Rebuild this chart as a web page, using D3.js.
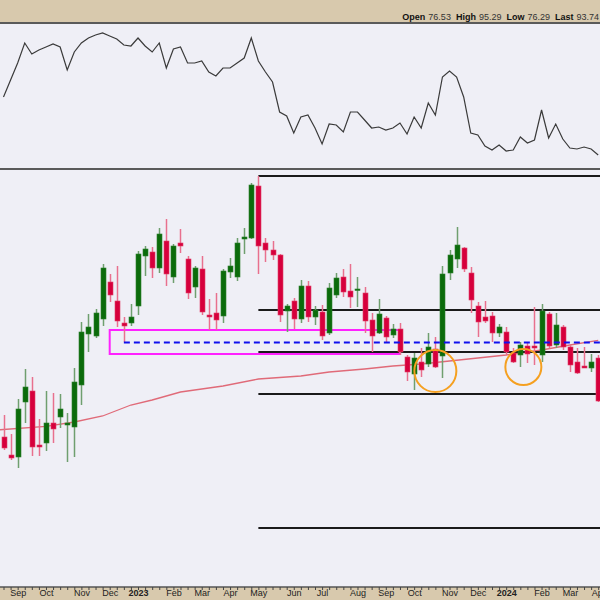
<!DOCTYPE html>
<html><head><meta charset="utf-8">
<script src="https://cdn.jsdelivr.net/npm/d3@7"></script>
<style>body{margin:0;background:#fff}svg{display:block}</style>
</head><body><svg id="c" width="600" height="600"></svg>
<script>
// ---------- DATA ----------
const firstWeek = "2022-08-22";
const lastWeek = "2024-04-01";
const opens = [40.75,36.25,35.75,49.5,52.25,38.75,39.25,44.25,45.75,43.75,
 43.25,53.75,66.5,66,70.25,79.5,74.75,69.25,69.25,73.5,
 86,87,83,89.75,80.75,89.25,85.25,78.25,82.75,71.25,
 71.75,71,82,80.75,90.25,90.5,103.5,89.25,87.5,86.25,
 72.25,74.75,70.25,78.5,70.75,72,66.75,76.25,80.75,77.25,
 77.5,76.75,70,66.75,70.5,66.25,67.75,60.75,56.5,59.5,
 59,62.75,61,81.75,85.25,88,81.75,73.5,70.75,71,
 66.75,67,61.75,61.25,63.5,63.5,61.25,71.5,63.75,68.25,
 63.25,59.5,58.5,58,60.5];
const highs = [46.25,41.5,50.25,57.75,55.75,45.25,52.25,51.75,51.5,46.75,
 58,69.5,71.5,72.75,84,81.5,83.5,70.75,74,87.25,
 88.5,88.25,93,95.25,89,92.75,86,83.5,86,75.25,
 76.75,82.75,85.5,90.5,93,104.25,106,90.5,89.75,86.5,
 74,75.5,80,79.75,73.5,73.75,79.25,81.75,82.75,84,
 80.75,78.25,71.75,75.25,71,69,69.25,61.25,61.75,63,
 66.75,65.75,83.5,87.5,93.25,88.25,83.25,74.5,74.75,72,
 69,68.25,63,64.5,64.25,73.25,74,72,71.75,68.75,
 63.75,63,63.25,61.5,61.25];
const lows = [37.5,35,33,44.25,36,36,37.25,39.25,43,34.5,
 35.75,48.75,62,65.5,68.5,74.5,68.25,64.5,68.5,71.25,
 81,80.5,81.75,78.5,79.25,86.75,75.25,75.5,71.25,67.5,
 67.5,69.25,80.5,79.75,86.5,90.25,81.5,84.5,85,69.5,
 67,67.75,69.25,69.5,68.75,65,66.25,75.5,75.75,73,
 73.25,66.75,62,66.5,64.25,65.5,61.25,54.75,52.5,55.75,
 58.25,58,55.5,80,83,82,71.75,65.75,69.25,64.5,
 65.75,61.25,59.25,58.25,59.25,58.75,59.5,63,63,62.5,
 57,56.5,58,57,49.5];
const closes = [38,35.5,47.75,53.25,38.25,38.25,44.25,42.75,47.75,44.25,
 54.5,67,68.25,71.75,83,76.25,69.75,68.5,70.75,86.5,
 87.75,83,91.5,81.5,88.5,88.5,76.75,83,72,70.75,
 70,82.25,83.5,89.25,90.75,103.75,88.5,87.5,86.25,71.25,
 73.5,70.25,78.5,70.75,72.5,66,78,80.5,77,75.75,
 77.75,69.75,66,71.5,65.75,67.75,62,57,60.5,57.5,
 63.25,58.25,81.5,86.25,88.75,82.75,75,69.5,69.75,66.75,
 68.25,62,59.5,63.75,61.5,63,72.25,63.5,68.75,63.25,
 58.75,56.75,58,59.5,49.75];
const indicator = [73,90,107,127,116,120,123,126,123,100,
 118,127,132,135,137,134,131,125,124,132,
 124,118,127,102,121,123,107,107,109,98,
 94,102,102,107,112,132,109,98,88,58,
 54,37,53,55,42,26,46,45,38,58,
 58,50,42,43,40,42,47,36,53,42,
 67,55,93,99,93,73,37,35,24,20,
 25,19,20,33,27,30,60,32,46,31,
 22,21,23,21,15];
const maDates = ["2022-08-15","2022-10-03","2022-10-31","2022-11-28","2022-12-26","2023-01-16","2023-02-13",
 "2023-03-27","2023-05-01","2023-06-12","2023-07-10","2023-08-14","2023-09-11","2023-10-09","2023-11-06",
 "2023-12-04","2024-01-01","2024-02-05","2024-03-04","2024-04-01"];
const maValues = [42.5,43.4,44.5,46,48.75,50,52,53.5,55.25,56,57,57.75,58.5,59,59.75,60.5,61.25,62.5,63.75,64.9];
const monthTickDates = ["2022-09-05","2022-10-03","2022-11-07","2022-12-05","2023-01-02","2023-02-06","2023-03-06",
 "2023-04-03","2023-05-01","2023-06-05","2023-07-03","2023-08-07","2023-09-04","2023-10-02","2023-11-06",
 "2023-12-04","2024-01-01","2024-02-05","2024-03-04","2024-04-01"];
const monthLabels = ["Sep","Oct","Nov","Dec","2023","Feb","Mar","Apr","May","Jun","Jul","Aug","Sep","Oct","Nov","Dec","2024","Feb","Mar","Apr"];
const headerLabels = ["Open","High","Low","Last"];
const headerValues = ["76.53","95.29","76.29","93.74"];
const fibLevels = [106,72.5,62,51.5,18];
const fibStart = "2023-05-01";
const boxRange = {from:"2022-12-05", to:"2023-09-18", top:67.5, bottom:61.5};
const dashedLevel = {from:"2022-12-19", value:64.4};
const circleMarks = [{date:"2023-10-23", value:57.25, r:21},{date:"2024-01-18", value:58.25, r:18}];

// ---------- LAYOUT ----------
const W = 600, H = 600;
const parse = d3.timeParse("%Y-%m-%d");
const weeks = d3.timeMonday.range(parse(firstWeek), d3.timeDay.offset(parse(lastWeek),1));
const candles = weeks.map((d,i)=>({date:d,o:opens[i],h:highs[i],l:lows[i],c:closes[i],v:indicator[i]}));

const svg = d3.select("#c");
const headerH = 23, topPanel = [24,168], mainPanel = [170,587];
const bg = "#efeff6", tan = "#d8c9ad";

const x = d3.scaleTime().domain([parse(firstWeek), parse(lastWeek)]).range([3.5, 598.2]);
const y = d3.scaleLinear().domain([0,150]).range([600,0]);
const yi = d3.scaleLinear().domain([0,146]).range([170,24]);

// backgrounds
svg.append("rect").attr("x",0).attr("y",0).attr("width",W).attr("height",headerH).attr("fill",tan);
svg.append("rect").attr("x",0).attr("y",headerH).attr("width",W).attr("height",mainPanel[1]-headerH).attr("fill",bg);
svg.append("rect").attr("x",0).attr("y",mainPanel[1]).attr("width",W).attr("height",H-mainPanel[1]).attr("fill",tan);

const defs = svg.append("defs");
defs.append("clipPath").attr("id","clipTop").append("rect").attr("x",0).attr("y",topPanel[0]).attr("width",W).attr("height",topPanel[1]-topPanel[0]);
defs.append("clipPath").attr("id","clipMain").append("rect").attr("x",0).attr("y",mainPanel[0]).attr("width",W).attr("height",mainPanel[1]-mainPanel[0]);

// header text
const ht = svg.append("text").attr("x",599).attr("y",20).attr("text-anchor","end")
  .attr("font-family","Liberation Sans, Arial, sans-serif").attr("font-size",9).attr("fill","#111");
headerLabels.forEach((lab,i)=>{
  ht.append("tspan").attr("font-weight","bold").attr("dx", i===0?0:5).text(lab);
  ht.append("tspan").attr("dx",3).attr("fill","#333").text(headerValues[i]);
});

// top indicator line
const gTop = svg.append("g").attr("clip-path","url(#clipTop)");
gTop.append("path").datum(candles)
  .attr("d", d3.line().x(d=>x(d.date)).y(d=>yi(d.v)))
  .attr("fill","none").attr("stroke","#3a3a3a").attr("stroke-width",1.2);

// separators
svg.append("line").attr("x1",0).attr("x2",W).attr("y1",headerH).attr("y2",headerH).attr("stroke","#5a5a5a").attr("stroke-width",2);
svg.append("line").attr("x1",0).attr("x2",W).attr("y1",169).attr("y2",169).attr("stroke","#5a5a5a").attr("stroke-width",2);

// main panel
const gMain = svg.append("g").attr("clip-path","url(#clipMain)");

// moving average
gMain.append("path").datum(maDates.map((d,i)=>({date:parse(d),v:maValues[i]})))
  .attr("d", d3.line().x(d=>x(d.date)).y(d=>y(d.v)))
  .attr("fill","none").attr("stroke","#e06a78").attr("stroke-width",1.3);

// fib lines
gMain.selectAll("line.fib").data(fibLevels).join("line").attr("class","fib")
  .attr("x1", x(parse(fibStart))).attr("x2", W)
  .attr("y1", d=>y(d)).attr("y2", d=>y(d))
  .attr("stroke","#1a1a1a").attr("stroke-width",2);

// magenta box
gMain.append("rect")
  .attr("x", x(parse(boxRange.from))).attr("y", y(boxRange.top))
  .attr("width", x(parse(boxRange.to)) - x(parse(boxRange.from)))
  .attr("height", y(boxRange.bottom) - y(boxRange.top))
  .attr("fill","none").attr("stroke","#ff22ff").attr("stroke-width",2);

// candles
const bw = 5;
const green = "#0b6b0b", red = "#d6003c";
const cg = gMain.selectAll("g.c").data(candles).join("g").attr("class","c");
cg.append("line")
  .attr("x1", d=>Math.round(x(d.date))+0.5).attr("x2", d=>Math.round(x(d.date))+0.5)
  .attr("y1", d=>y(d.h)).attr("y2", d=>y(d.l))
  .attr("stroke", d=>d.c>=d.o?"#6f9f6f":"#e8708e").attr("stroke-width",1.5);
cg.append("rect")
  .attr("x", d=>Math.round(x(d.date))+0.5-bw/2).attr("width", bw)
  .attr("y", d=>y(Math.max(d.o,d.c)))
  .attr("height", d=>Math.max(1.5, Math.abs(y(d.o)-y(d.c))))
  .attr("fill", d=>d.c>=d.o?green:red)
  .attr("stroke", d=>d.c>=d.o?"#2f7f2f":"#e0406a").attr("stroke-width",0.6);

// blue dashed level
gMain.append("line")
  .attr("x1", x(parse(dashedLevel.from))).attr("x2", W)
  .attr("y1", y(dashedLevel.value)).attr("y2", y(dashedLevel.value))
  .attr("stroke","#1010ee").attr("stroke-width",2).attr("stroke-dasharray","6,4");

// orange circles
gMain.selectAll("circle.mark").data(circleMarks).join("circle").attr("class","mark")
  .attr("cx", d=>x(parse(d.date))).attr("cy", d=>y(d.value)).attr("r", d=>d.r)
  .attr("fill","none").attr("stroke","#f5a020").attr("stroke-width",2);

// bottom axis
svg.append("line").attr("x1",0).attr("x2",W).attr("y1",mainPanel[1]).attr("y2",mainPanel[1]).attr("stroke","#555").attr("stroke-width",1.5);
const minor = svg.append("g").attr("transform",`translate(0,${mainPanel[1]})`)
  .call(d3.axisBottom(x).tickValues(weeks).tickSize(3).tickFormat(""));
minor.select(".domain").remove();
minor.selectAll(".tick line").attr("stroke","#444");
const major = svg.append("g").attr("transform",`translate(0,${mainPanel[1]})`)
  .call(d3.axisBottom(x).tickValues(monthTickDates.map(parse)).tickSize(0)
    .tickFormat((d,i)=>monthLabels[i]));
major.select(".domain").remove();
major.selectAll(".tick text")
  .attr("y",3).attr("dy","0.71em")
  .attr("font-family","Liberation Sans, Arial, sans-serif").attr("font-size",9)
  .attr("fill","#222")
  .attr("font-weight",(d,i)=>/^\d{4}$/.test(monthLabels[i])?"bold":"normal");
</script></body></html>
